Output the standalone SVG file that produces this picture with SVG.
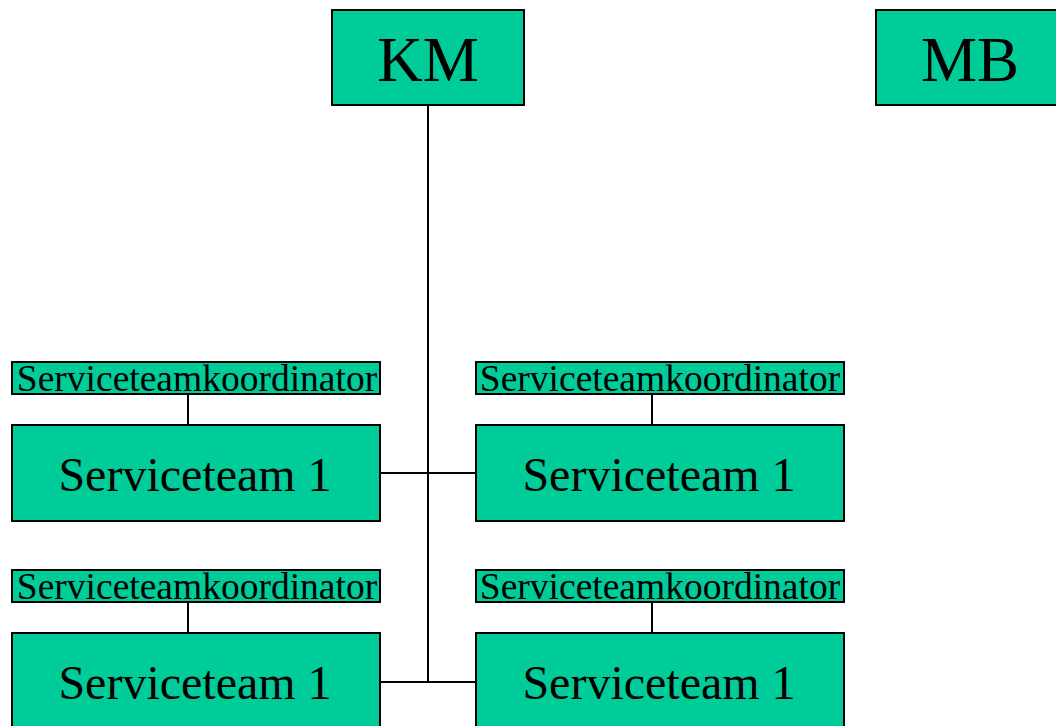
<svg xmlns="http://www.w3.org/2000/svg" width="1056" height="726" viewBox="0 0 1056 726">
<style>
.box{fill:#00CC99;stroke:#000;stroke-width:2}
.t{font-family:"Liberation Serif","Times New Roman",serif;fill:#000;text-anchor:middle}
.big{font-size:63px}
.mid{font-size:48px}
.small{font-size:37.5px}
.ln{stroke:#000;stroke-width:2;fill:none}
</style>
<rect width="1056" height="726" fill="#fff"/>
<g id="connectors">
<line class="ln" x1="428" y1="105" x2="428" y2="682"/>
<line class="ln" x1="380" y1="473" x2="476" y2="473"/>
<line class="ln" x1="380" y1="682" x2="476" y2="682"/>
<line class="ln" x1="188" y1="394" x2="188" y2="425"/>
<line class="ln" x1="652" y1="394" x2="652" y2="425"/>
<line class="ln" x1="188" y1="602" x2="188" y2="633"/>
<line class="ln" x1="652" y1="602" x2="652" y2="633"/>
</g>
<g id="km"><rect class="box" x="332" y="10" width="192" height="95"/><text class="t big" x="428" y="81">KM</text></g>
<g id="mb"><rect class="box" x="876" y="10" width="192" height="95"/><text class="t big" x="970" y="81">MB</text></g>
<g id="coord1"><rect class="box" x="12" y="362" width="368" height="32"/><text class="t small" x="197" y="391">Serviceteamkoordinator</text></g>
<g id="team1"><rect class="box" x="12" y="425" width="368" height="96"/><text class="t mid" x="195" y="491">Serviceteam 1</text></g>
<g id="coord2"><rect class="box" x="476" y="362" width="368" height="32"/><text class="t small" x="660" y="391">Serviceteamkoordinator</text></g>
<g id="team2"><rect class="box" x="476" y="425" width="368" height="96"/><text class="t mid" x="659" y="491">Serviceteam 1</text></g>
<g id="coord3"><rect class="box" x="12" y="570" width="368" height="32"/><text class="t small" x="197" y="599">Serviceteamkoordinator</text></g>
<g id="team3"><rect class="box" x="12" y="633" width="368" height="96"/><text class="t mid" x="195" y="699">Serviceteam 1</text></g>
<g id="coord4"><rect class="box" x="476" y="570" width="368" height="32"/><text class="t small" x="660" y="599">Serviceteamkoordinator</text></g>
<g id="team4"><rect class="box" x="476" y="633" width="368" height="96"/><text class="t mid" x="659" y="699">Serviceteam 1</text></g>
</svg>
